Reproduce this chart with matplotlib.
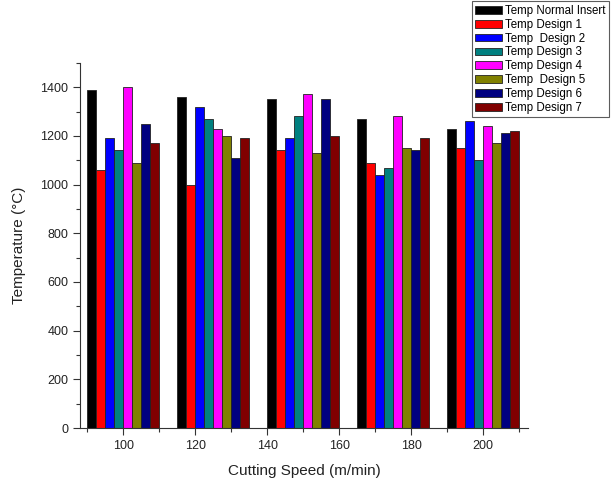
import numpy as np
import matplotlib
matplotlib.use("Agg")
import matplotlib.pyplot as plt

plt.rcParams['font.family'] = ['Liberation Sans', 'DejaVu Sans']

# Data
speeds = [100, 125, 150, 175, 200]
labels = ['Temp Normal Insert', 'Temp Design 1', 'Temp  Design 2', 'Temp Design 3',
          'Temp Design 4', 'Temp  Design 5', 'Temp Design 6', 'Temp Design 7']
normal = [1390, 1360, 1350, 1270, 1230]
design1 = [1060, 1000, 1140, 1090, 1150]
design2 = [1190, 1320, 1190, 1040, 1260]
design3 = [1140, 1270, 1280, 1070, 1100]
design4 = [1400, 1230, 1370, 1280, 1240]
design5 = [1090, 1200, 1130, 1150, 1170]
design6 = [1250, 1110, 1350, 1140, 1210]
design7 = [1170, 1190, 1200, 1190, 1220]
series = [normal, design1, design2, design3, design4, design5, design6, design7]
colors = ['#000000', '#ff0000', '#0000ff', '#008080',
          '#ff00ff', '#808000', '#000080', '#800000']

fig = plt.figure(figsize=(6.12, 4.87), dpi=100)
ax = fig.add_axes([0.131, 0.121, 0.732, 0.750])

width = 2.5
x = np.array(speeds, dtype=float)
for i, (vals, c, lab) in enumerate(zip(series, colors, labels)):
    ax.bar(x + (i - 3.5) * width, vals, width, color=c, edgecolor='#222222',
           linewidth=0.6, label=lab)

ax.set_xlim(88, 212.5)
ax.set_ylim(0, 1500)
ax.set_xticks([100, 120, 140, 160, 180, 200])
ax.set_xticks([90, 110, 130, 150, 170, 190, 210], minor=True)
ax.set_yticks(range(0, 1401, 200))
ax.set_yticks(range(100, 1501, 200), minor=True)
ax.spines['top'].set_visible(False)
ax.spines['right'].set_visible(False)
ax.spines['left'].set_color('#333333')
ax.spines['bottom'].set_color('#333333')
ax.tick_params(which='major', direction='out', length=5, width=0.8, labelsize=9, colors='#333333')
ax.tick_params(which='minor', direction='out', length=3, width=0.8, colors='#333333')
ax.tick_params(labelcolor='#222222')

ax.set_xlabel('Cutting Speed (m/min)', fontsize=11, color='#222222', labelpad=9)
ax.set_ylabel('Temperature (°C)', fontsize=11, color='#222222', labelpad=10)

leg = fig.legend(loc='upper left', bbox_to_anchor=(0.771, 0.997), fontsize=8.3,
                 frameon=True, fancybox=False, edgecolor='#333333',
                 handlelength=2.3, handleheight=0.65, labelspacing=0.16,
                 borderpad=0.3, handletextpad=0.3, borderaxespad=0)
leg.get_frame().set_linewidth(0.8)

fig.savefig('out.png', dpi=100)
